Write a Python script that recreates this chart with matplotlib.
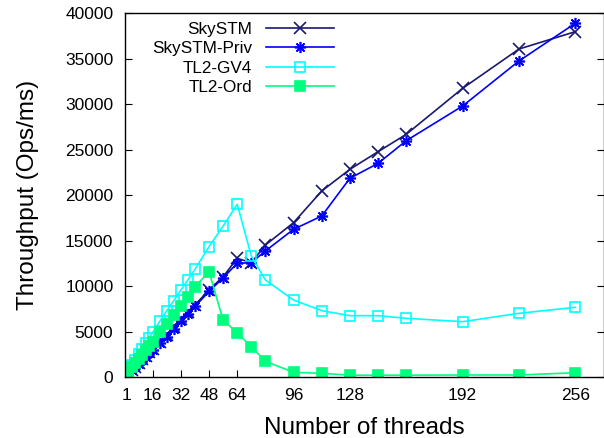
"""Throughput vs. number of threads for SkySTM and TL2 variants."""

import matplotlib.pyplot as plt

threads = [1, 2, 4, 6, 8, 10, 12, 14, 16, 20, 24, 28, 32, 36, 40, 48, 56, 64,
           72, 80, 96, 112, 128, 144, 160, 192, 224, 256]

skystm = [200, 390, 760, 1150, 1540, 1930, 2320, 2710, 3080, 3850, 4620, 5530,
          6370, 7180, 7910, 9560, 11020, 13040, 12560, 14500, 16960, 20440,
          22820, 24760, 26670, 31720, 36040, 37950]
skystm_priv = [190, 370, 740, 1110, 1480, 1850, 2220, 2600, 2950, 3700, 4450,
               5300, 6150, 6950, 7750, 9400, 10900, 12490, 12560, 13850, 16230,
               17690, 21840, 23480, 25970, 29780, 34730, 38870]
tl2_gv4 = [400, 700, 1300, 1900, 2500, 3100, 3700, 4300, 4900, 6100, 7290, 8380,
           9560, 10660, 11830, 14320, 16590, 18980, 13300, 10660, 8460, 7290,
           6740, 6740, 6450, 6080, 7000, 7660]
tl2_ord = [350, 600, 1050, 1500, 2000, 2450, 2950, 3400, 3900, 4900, 5850, 6850,
           7800, 8820, 9920, 11570, 6260, 4850, 3350, 1720, 520, 400, 200, 200,
           200, 220, 220, 470]

x_ticks = [1, 16, 32, 48, 64, 96, 128, 192, 256]
y_ticks = list(range(0, 40001, 5000))

plt.rcParams["font.family"] = ["Liberation Sans", "DejaVu Sans"]

fig = plt.figure(figsize=(6.04, 4.38), dpi=100)
ax = fig.add_axes([124.5 / 604, 61 / 438, 479 / 604, 364 / 438])

ax.plot(threads, skystm, color="#191970", lw=1.2, marker="x", ms=8, mew=1.2,
        label="SkySTM")
ax.plot(threads, skystm_priv, color="#0000ff", lw=1.2, marker=(8, 2, 0), ms=8,
        mew=1.2, label="SkySTM-Priv")
ax.plot(threads, tl2_gv4, color="#00ffff", lw=1.2, marker="s", ms=7, mew=1.2,
        mfc="none", label="TL2-GV4")
ax.plot(threads, tl2_ord, color="#00ff7f", lw=1.2, marker="s", ms=7, mew=1.2,
        label="TL2-Ord")

ax.set_xlim(0, 272)
ax.set_ylim(0, 40000)
ax.set_xticks(x_ticks)
ax.set_yticks(y_ticks)
ax.tick_params(axis="both", direction="in", labelsize=12.5, length=5, width=0.8,
               pad=8)
ax.tick_params(axis="y", right=True)
for side in ax.spines.values():
    side.set_linewidth(1.0)

ax.set_xlabel("Number of threads", fontsize=17.5, labelpad=10)
ax.set_ylabel("Throughput (Ops/ms)", fontsize=17.5, labelpad=19)

ax.legend(loc="upper right", bbox_to_anchor=(334 / 604, 1 - 22 / 438),
          bbox_transform=fig.transFigure, frameon=False, markerfirst=False,
          fontsize=12.3, handlelength=4.0, handletextpad=0.8, labelspacing=0.25,
          borderpad=0, borderaxespad=0)

fig.savefig("out.png", dpi=100)
